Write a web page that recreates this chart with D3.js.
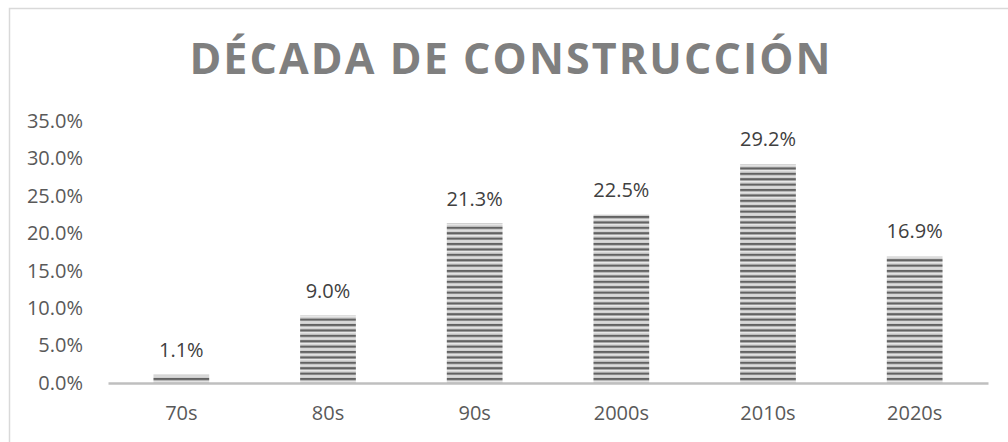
<!DOCTYPE html>
<html>
<head>
<meta charset="utf-8">
<script src="https://cdn.jsdelivr.net/npm/d3@7"></script>
<style>
  html, body { margin: 0; padding: 0; background: #fff; }
  text { font-family: "Open Sans", sans-serif; }
</style>
</head>
<body>
<div id="chart"></div>
<script>
const categories = ["70s", "80s", "90s", "2000s", "2010s", "2020s"];
const values = [1.1, 9.0, 21.3, 22.5, 29.2, 16.9];
const yTicks = [0, 5, 10, 15, 20, 25, 30, 35];

const width = 1008, height = 442;
const margin = { top: 121, right: 20, bottom: 59, left: 108 };

const svg = d3.select("#chart")
  .append("svg")
  .attr("width", width)
  .attr("height", height);

// striped fill for the bars
const defs = svg.append("defs");
const pat = defs.append("pattern")
  .attr("id", "stripes")
  .attr("patternUnits", "userSpaceOnUse")
  .attr("width", 8)
  .attr("height", 5.4);
pat.append("rect").attr("width", 8).attr("height", 5.4).attr("fill", "#d0d0d0");
pat.append("rect").attr("y", 2.4).attr("width", 8).attr("height", 1.4).attr("fill", "#eaeaea");
pat.append("rect").attr("y", 0).attr("width", 8).attr("height", 2.2).attr("fill", "#626262");

// outer frame
svg.append("rect")
  .attr("x", 9.5).attr("y", 8.5)
  .attr("width", 1010).attr("height", 450)
  .attr("fill", "none")
  .attr("stroke", "#d9d9d9")
  .attr("stroke-width", 1.5);

// title
svg.append("text")
  .attr("x", 511)
  .attr("y", 74)
  .attr("text-anchor", "middle")
  .style("font-size", "43px")
  .style("font-weight", "bold")
  .style("letter-spacing", "2.1px")
  .style("fill", "#7f7f7f")
  .text("DÉCADA DE CONSTRUCCIÓN");

const x = d3.scaleBand()
  .domain(categories)
  .range([margin.left, width - margin.right])
  .paddingInner(0.62)
  .paddingOuter(0.31);

const y = d3.scaleLinear()
  .domain([0, 35])
  .range([height - margin.bottom, margin.top]);

// y axis labels (no line)
const yAxis = svg.append("g")
  .attr("transform", `translate(${margin.left - 22},0)`)
  .call(d3.axisLeft(y).tickValues(yTicks).tickSize(0).tickFormat(d => d.toFixed(1) + "%"));
yAxis.select(".domain").remove();
yAxis.selectAll("text")
  .style("font-size", "20px")
  .style("fill", "#595959")
  .style("font-family", "'Open Sans', sans-serif");

// bars
svg.selectAll(".bar")
  .data(values)
  .enter()
  .append("rect")
  .attr("class", "bar")
  .attr("x", (d, i) => x(categories[i]))
  .attr("y", d => y(d))
  .attr("width", x.bandwidth())
  .attr("height", d => y(0) - y(d))
  .attr("fill", "url(#stripes)");

// x axis
const xAxis = svg.append("g")
  .attr("transform", `translate(0,${y(0)})`)
  .call(d3.axisBottom(x).tickSize(0).tickPadding(23));
xAxis.select(".domain")
  .attr("stroke", "#bfbfbf")
  .attr("stroke-width", 2.5);
xAxis.selectAll("text")
  .style("font-size", "20px")
  .style("fill", "#595959")
  .style("font-family", "'Open Sans', sans-serif");

// value labels
svg.selectAll(".label")
  .data(values)
  .enter()
  .append("text")
  .attr("class", "label")
  .attr("x", (d, i) => x(categories[i]) + x.bandwidth() / 2)
  .attr("y", d => y(d) - 18)
  .attr("text-anchor", "middle")
  .style("font-size", "20px")
  .style("fill", "#404040")
  .text(d => d.toFixed(1) + "%");
</script>
</body>
</html>
